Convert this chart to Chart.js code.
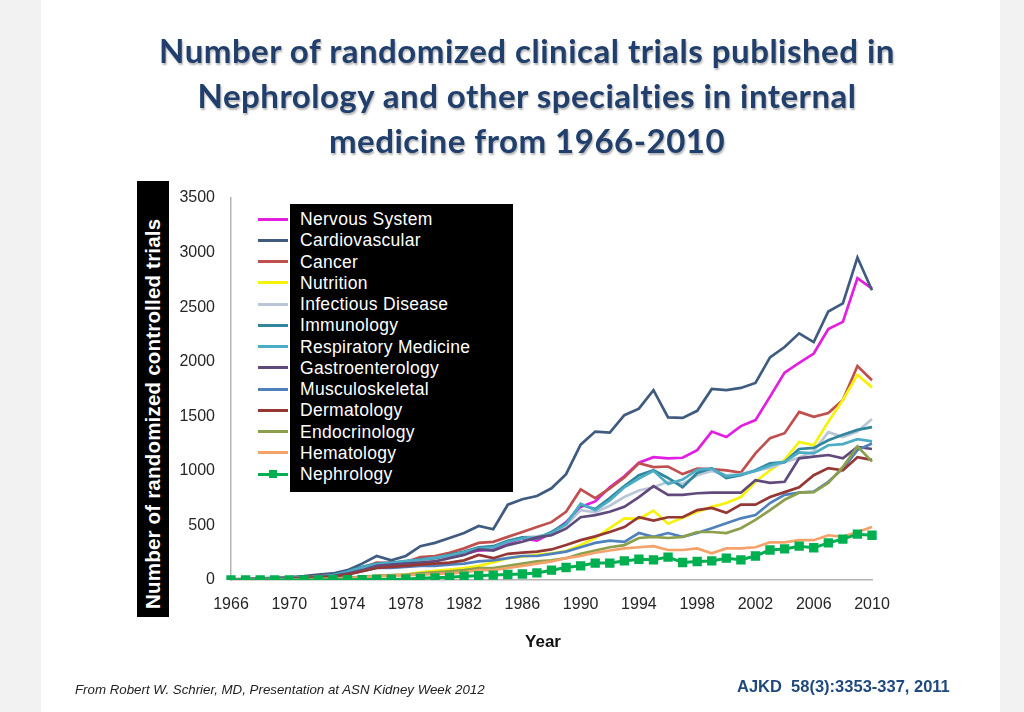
<!DOCTYPE html>
<html>
<head>
<meta charset="utf-8">
<script src="https://cdn.jsdelivr.net/npm/chart.js@4.4.1/dist/chart.umd.min.js"></script>
<style>
  body { margin: 0; width: 1024px; height: 712px; background: #f2f2f2; overflow: hidden; position: relative; font-family: "Liberation Sans", Arial, sans-serif; }
  #slide { position: absolute; left: 41px; top: 0; width: 959px; height: 712px; background: #fff; }
  #chart { position: absolute; left: 0; top: 0; }
  #title { position: absolute; left: 41px; top: 28px; width: 972px; text-align: center; font: bold 33px/45px Lato, "Open Sans", sans-serif; letter-spacing: 0.5px; color: #213f6c; text-shadow: 1px 2px 2px rgba(0,0,0,0.3); }
  #ytitle { position: absolute; left: 137px; top: 181px; width: 32px; height: 436px; background: #000; }
  #ytitle div { position: absolute; width: 436px; height: 32px; left: -202px; top: 202px; transform: rotate(-90deg); line-height: 32px; color: #fff; font-weight: bold; font-size: 20.5px; letter-spacing: 0.2px; padding-left: 8px; box-sizing: border-box; white-space: nowrap; }
  #legend { position: absolute; left: 290px; top: 204px; width: 223px; height: 288px; background: #000; }
  .lg-text { position: absolute; color: #fff; font-size: 17.5px; letter-spacing: 0.3px; line-height: 20px; white-space: nowrap; }
  .lg-line { position: absolute; height: 3px; }
  .lg-mark { position: absolute; width: 8px; height: 8px; }
  #xtitle { position: absolute; left: 443px; top: 632px; width: 200px; text-align: center; font-weight: bold; font-size: 17px; color: #111; }
  #src { position: absolute; left: 75px; top: 682px; font-style: italic; font-size: 13.3px; color: #222; white-space: nowrap; }
  #ref { position: absolute; left: 737px; top: 677px; font-weight: bold; font-size: 16.5px; color: #1f497d; white-space: nowrap; }
</style>
</head>
<body>
<div id="slide"></div>
<canvas id="chart" width="1024" height="712"></canvas>
<div id="title">Number of randomized clinical trials published in<br>Nephrology and other specialties in internal<br>medicine from 1966-2010</div>
<div id="ytitle"><div>Number of randomized controlled trials</div></div>
<div id="legend"></div>
<div id="xtitle">Year</div>
<div id="src">From Robert W. Schrier, MD, Presentation at ASN Kidney Week 2012</div>
<div id="ref">AJKD&nbsp; 58(3):3353-337, 2011</div>
<script>
// años 1966-2010
const years = [];
for (let y = 1966; y <= 2010; y++) years.push(String(y));

const seriesNames = ['Nervous System', 'Cardiovascular', 'Cancer', 'Nutrition', 'Infectious Disease',
  'Immunology', 'Respiratory Medicine', 'Gastroenterology', 'Musculoskeletal', 'Dermatology',
  'Endocrinology', 'Hematology', 'Nephrology'];

const nervous = [3,5,8,10,15,20,30,40,60,90, 130,140,160,170,190,210,240,270,280,340,
  380,360,430,530,670,720,850,950,1075,1125, 1115,1120,1190,1360,1310,1410,1465,1680,1900,1990,
  2075,2300,2365,2765,2670];
const cardio = [5,10,15,20,25,35,50,60,90,150, 220,180,220,310,340,385,430,495,465,690,
  740,770,840,970,1240,1360,1350,1510,1570,1740, 1490,1485,1550,1750,1740,1760,1805,2040,2135,2260,
  2180,2460,2535,2955,2655];
const cancer = [3,5,8,12,15,25,35,45,70,110, 160,155,165,210,220,250,290,340,350,395,
  440,485,530,625,830,750,840,940,1070,1035, 1040,970,1020,1015,1005,985,1160,1300,1345,1540,
  1495,1530,1650,1960,1830];
const nutrition = [0,2,3,4,5,8,10,15,20,25, 35,40,50,70,85,95,110,130,160,200,
  215,230,245,265,320,385,475,565,560,635, 515,570,625,670,705,760,900,1005,1100,1265,
  1235,1450,1650,1880,1765];
const infectious = [3,5,8,10,15,20,30,40,70,110, 130,150,160,180,190,220,250,290,300,350,
  390,400,420,500,640,620,680,760,820,850, 900,880,960,1000,960,970,1000,1030,1080,1120,
  1180,1355,1310,1360,1475];
const immunology = [3,5,8,12,15,22,32,45,80,120, 150,160,170,190,200,230,260,300,310,360,
  390,380,440,520,690,650,750,860,960,1005, 935,850,980,1025,935,960,1005,1070,1080,1200,
  1210,1280,1330,1375,1400];
const respiratory = [3,5,7,10,14,20,30,42,75,115, 145,155,175,185,205,225,255,290,300,350,
  380,390,430,510,700,640,730,850,930,1000, 880,920,1010,1020,950,965,1000,1050,1085,1170,
  1160,1235,1245,1290,1270];
const gastro = [2,4,6,8,12,18,26,35,60,90, 130,140,150,160,170,200,230,280,270,320,
  350,390,410,470,575,595,625,670,760,860, 780,780,795,800,800,800,915,890,900,1115,
  1130,1145,1115,1220,1200];
const musculo = [2,3,5,7,10,15,20,30,50,80, 110,110,120,130,130,140,150,170,180,200,
  220,220,240,260,300,340,360,350,430,395, 430,395,430,475,520,565,595,705,780,800,
  810,900,1020,1190,1250];
const derm = [2,3,5,7,10,15,22,30,50,80, 110,120,130,140,150,160,180,230,200,240,
  250,260,280,320,365,400,440,485,575,545, 575,575,640,660,615,690,690,760,805,850,
  960,1025,1005,1125,1100];
const endo = [0,1,2,3,5,7,10,14,20,30, 40,45,50,60,70,80,90,110,110,130,
  150,170,180,200,240,270,300,320,385,395, 385,395,440,440,430,475,550,640,735,800,
  805,890,1035,1225,1085];
const hema = [0,1,2,3,4,5,7,10,15,25, 35,40,45,50,55,60,70,90,90,110,
  130,150,170,200,220,250,270,290,300,310, 275,275,290,245,290,290,300,345,345,365,
  365,410,395,440,485];
const nephro = [0,0,0,0,0,0,0,2,3,4, 5,8,10,15,20,25,35,40,45,50,
  55,65,90,115,130,155,155,175,190,185, 210,160,170,175,200,185,220,275,285,310,
  295,340,375,420,410];

const seriesData = [nervous, cardio, cancer, nutrition, infectious, immunology, respiratory,
  gastro, musculo, derm, endo, hema, nephro];
const colors = ['#e31ee3', '#3f5b80', '#c0504d', '#f7f20a', '#b9c6d8', '#31859c', '#4bacc6',
  '#604a7b', '#4f81bd', '#953735', '#8c9f4c', '#f4a26a', '#00b050'];

const datasets = seriesNames.map((name, i) => {
  const isNeph = name === 'Nephrology';
  return {
    label: name,
    data: seriesData[i],
    borderColor: colors[i],
    backgroundColor: colors[i],
    borderWidth: isNeph ? 3 : 2.7,
    pointRadius: isNeph ? 4.5 : 0,
    pointStyle: 'rect',
    tension: 0,
    order: seriesNames.length - i // como Excel: la última serie queda encima
  };
});

Chart.defaults.font.family = '"Liberation Sans", Arial, sans-serif';

const ctx = document.getElementById('chart').getContext('2d');
const chart = new Chart(ctx, {
  type: 'line',
  data: { labels: years, datasets: datasets },
  options: {
    responsive: false,
    animation: false,
    layout: { padding: { top: 198, right: 152, left: 0, bottom: 0 } },
    plugins: { legend: { display: false }, tooltip: { enabled: false } },
    scales: {
      x: {
        grid: { display: false, drawTicks: false },
        border: { display: true, color: '#b3b3b3', width: 1.5 },
        ticks: {
          autoSkip: false, maxRotation: 0, padding: 15,
          color: '#262626', font: { size: 16 },
          callback: (v, i) => (i % 4 === 0 ? years[i] : null)
        },
        afterFit: s => { s.height = 132; }
      },
      y: {
        min: 0, max: 3500,
        grid: { display: false, drawTicks: false },
        border: { display: true, color: '#b3b3b3', width: 1.5 },
        ticks: { stepSize: 500, padding: 16, color: '#262626', font: { size: 16 },
          callback: v => String(v) },
        afterFit: s => { s.width = 231; }
      }
    }
  }
});

// leyenda a mano
const legend = document.getElementById('legend');
seriesNames.forEach((name, i) => {
  const cy = 219 + i * 21.25;
  const line = document.createElement('div');
  line.className = 'lg-line';
  line.style.cssText = `left:258px;width:30px;top:${cy - 1.5}px;background:${colors[i]}`;
  document.body.appendChild(line);
  if (name === 'Nephrology') {
    const m = document.createElement('div');
    m.className = 'lg-mark';
    m.style.cssText = `left:269px;top:${cy - 4}px;background:${colors[i]}`;
    document.body.appendChild(m);
  }
  const t = document.createElement('div');
  t.className = 'lg-text';
  t.textContent = name;
  t.style.left = '10px';
  t.style.top = (cy - 204 - 10) + 'px';
  legend.appendChild(t);
});
</script>
</body>
</html>
